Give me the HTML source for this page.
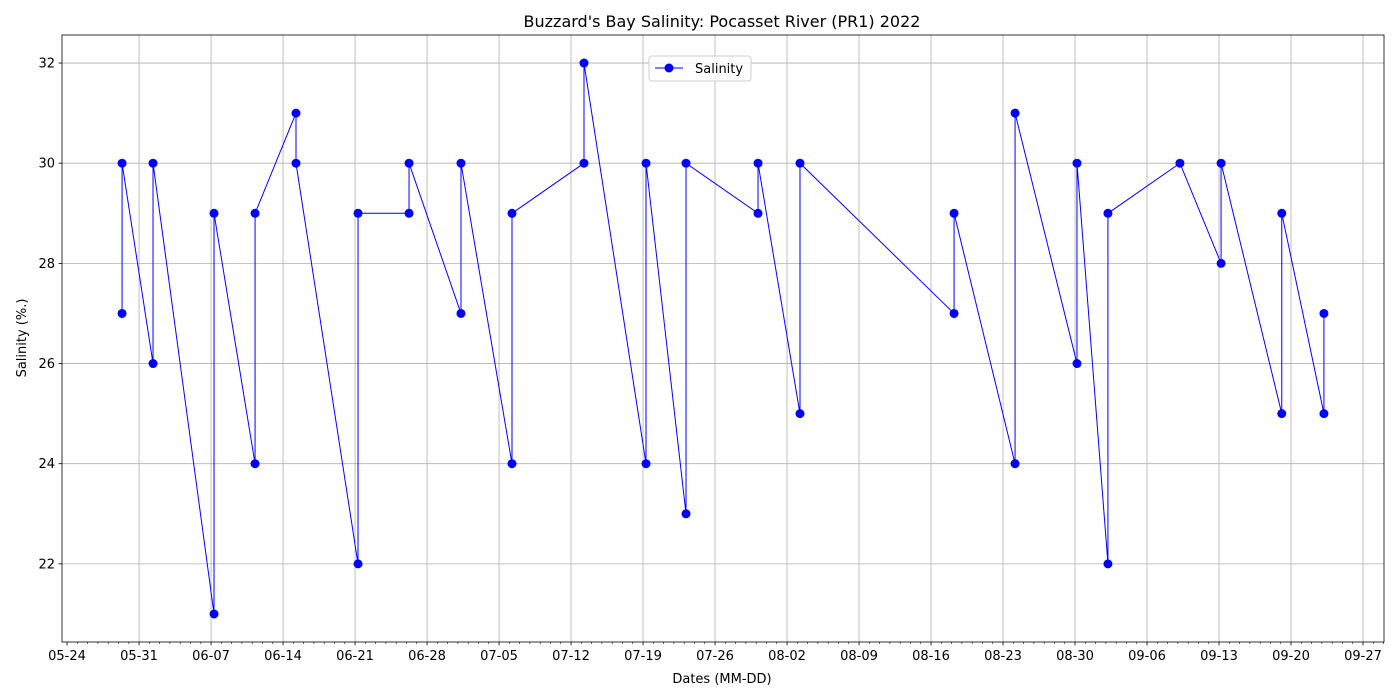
<!DOCTYPE html>
<html><head><meta charset="utf-8"><style>
body{margin:0;background:#fff;}
svg{display:block;font-family:"DejaVu Sans","Liberation Sans",sans-serif;}
</style></head><body>
<svg id="chart" width="1400" height="700" xmlns="http://www.w3.org/2000/svg">
<text x="722" y="27" text-anchor="middle" font-size="16">Buzzard's Bay Salinity: Pocasset River (PR1) 2022</text>
<text x="722" y="683" text-anchor="middle" font-size="13">Dates (MM-DD)</text>
<text x="26" y="338" text-anchor="middle" font-size="13" transform="rotate(-90 26 338)">Salinity (%.)</text>
<g id="grid"></g><g id="series"></g><g id="axes"></g>
<g>
<rect x="649" y="56" width="102" height="25" rx="3" fill="#fff" fill-opacity="0.8" stroke="#ccc"/>
<line x1="655" y1="68" x2="683" y2="68" stroke="#0000ff" stroke-width="1"/>
<circle cx="669" cy="68" r="4.5" fill="#0000ff"/>
<text x="695" y="73" font-size="13">Salinity</text>
</g>
</svg>
<script>
// days since 05-24
const days=[5.35,5.35,8.36,8.36,14.29,14.29,18.28,18.28,22.26,22.26,28.29,28.29,33.25,33.25,38.3,38.3,43.26,43.26,50.26,50.26,56.29,56.29,60.18,60.18,67.18,67.18,71.26,71.26,86.24,86.24,92.17,92.17,98.19,98.19,101.2,101.2,108.2,112.2,112.2,118.1,118.1,122.2,122.2];
const salinity=[27,30,26,30,21,29,24,29,31,30,22,29,29,30,27,30,24,29,30,32,24,30,23,30,29,30,25,30,27,29,24,31,26,30,22,29,30,28,30,25,29,25,27];
const xTickLabels=["05-24","05-31","06-07","06-14","06-21","06-28","07-05","07-12","07-19","07-26","08-02","08-09","08-16","08-23","08-30","09-06","09-13","09-20","09-27"];
const yTicks=[22,24,26,28,30,32];
const L=62,R=1384,T=35,B=642,x0=-0.49,x1=128.04,y0=20.44,y1=32.56;
const X=d=>L+(d-x0)/(x1-x0)*(R-L);
const Y=v=>B-(v-y0)/(y1-y0)*(B-T);
const NS="http://www.w3.org/2000/svg";
function mk(p,t,a){const e=document.createElementNS(NS,t);for(const k in a)e.setAttribute(k,a[k]);p.appendChild(e);return e;}
const grid=document.getElementById('grid'),axes=document.getElementById('axes'),ser=document.getElementById('series');
xTickLabels.forEach((lab,i)=>{const x=X(i*7);
 if(i>0){const g=mk(grid,'line',{x1:x,x2:x,y1:T,y2:B,stroke:'#b0b0b0','stroke-width':0.8});
 
 }
 mk(axes,'line',{x1:x,x2:x,y1:B,y2:B+3.5,stroke:'#000','stroke-width':0.8});
 const t=mk(axes,'text',{x:x,y:B+18,'text-anchor':'middle','font-size':13});t.textContent=lab;
 
 
});
for(let d=0;d<=128;d++){if(d%7)mk(axes,'line',{x1:X(d),x2:X(d),y1:B,y2:B+2,stroke:'#000','stroke-width':0.6});}
yTicks.forEach(v=>{const y=Y(v);
 const g=mk(grid,'line',{x1:L,x2:R,y1:y,y2:y,stroke:'#b0b0b0','stroke-width':0.8});
 
 
 mk(axes,'line',{x1:L-3.5,x2:L,y1:y,y2:y,stroke:'#000','stroke-width':0.8});
 const t=mk(axes,'text',{x:L-7,y:y+4.5,'text-anchor':'end','font-size':13});t.textContent=v;
 
 
});
const fr=mk(axes,'rect',{x:L,y:T,width:R-L,height:B-T,fill:'none',stroke:'#000','stroke-width':0.8});


const pts=days.map((d,i)=>X(d)+','+Y(salinity[i])).join(' ');
const pl=mk(ser,'polyline',{points:pts,fill:'none',stroke:'#0000ff','stroke-width':1});


days.forEach((d,i)=>{const c=mk(ser,'circle',{cx:X(d),cy:Y(salinity[i]),r:4.5,fill:'#0000ff'});
 
 });
</script>
</body></html>
